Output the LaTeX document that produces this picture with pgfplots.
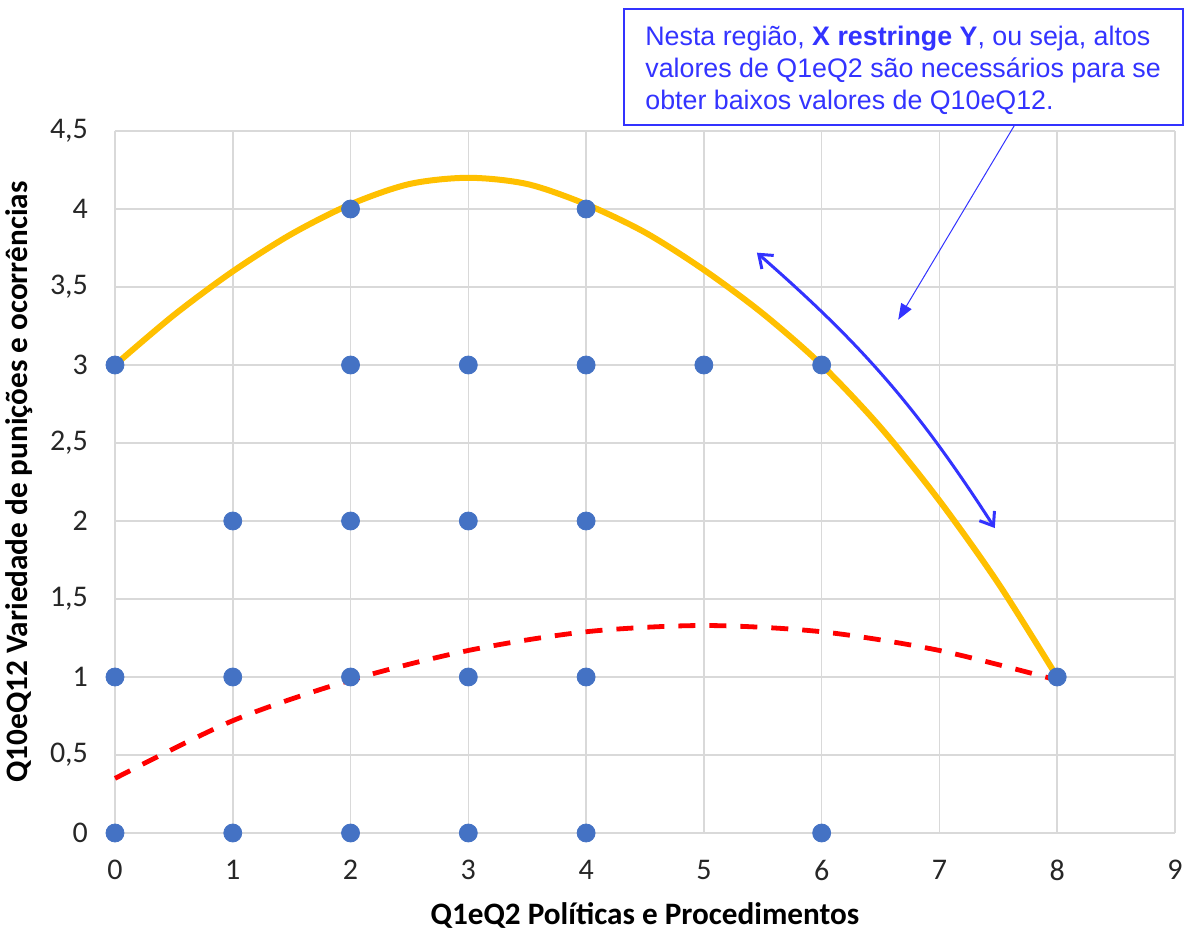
\documentclass[border=0pt]{standalone}
\usepackage{pgfplots}
\pgfplotsset{compat=1.18}
\usepackage{fontspec}
\setmainfont{Carlito}
\newfontfamily\arialfont{Liberation Sans}
\usetikzlibrary{arrows.meta}
\definecolor{ptblue}{HTML}{4472C4}
\definecolor{trendy}{HTML}{FFC000}
\definecolor{gridg}{HTML}{D9D9D9}
\definecolor{notecol}{HTML}{3333FF}
\begin{document}
\begin{tikzpicture}
\begin{axis}[
    name=main,
    at={(0,0)}, anchor=south west,
    scale only axis,
    width=530pt, height=351pt,
    xmin=0, xmax=9, ymin=0, ymax=4.5,
    xtick={0,1,...,9},
    ytick={0,0.5,...,4.5},
    grid=major,
    major grid style={gridg, line width=0.8pt},
    axis line style={draw=none},
    tick style={draw=none},
    /pgf/number format/use comma,
    /pgf/number format/assume math mode=true,
    ticklabel style={font=\fontsize{15}{17}\selectfont, text=black!85},
    xticklabel style={yshift=-10pt},
    yticklabel style={xshift=-10pt},
    xlabel={\textbf{Q1eQ2 Políticas e Procedimentos}},
    ylabel={\textbf{Q10eQ12 Variedade de punições e ocorrências}},
    label style={font=\fontsize{15.6}{18}\selectfont},
    xlabel style={yshift=-4pt},
    ylabel style={yshift=2pt},
    clip=false,
]
\addplot[only marks, mark=*, mark size=4.5pt, mark options={draw=ptblue, fill=ptblue}]
coordinates {
(0,3) (0,1) (0,0)
(1,2) (1,1) (1,0)
(2,4) (2,3) (2,2) (2,1) (2,0)
(3,3) (3,2) (3,1) (3,0)
(4,4) (4,3) (4,2) (4,1) (4,0)
(5,3) (6,3) (6,0) (8,1)
};
\addplot[trendy, line width=3pt, smooth]
coordinates {
(0,3.0) (0.5,3.32) (1,3.6) (1.5,3.84) (2,4.03) (2.5,4.16) (3,4.2)
(3.5,4.16) (4,4.03) (4.5,3.85) (5,3.61) (5.5,3.33) (6,3.0)
(6.5,2.6) (7,2.13) (7.5,1.6) (8,1.0)
};
\addplot[red, line width=2.4pt, dash pattern=on 8.5pt off 7pt, smooth]
coordinates {
(0,0.35) (1,0.72) (2,0.98) (3,1.17) (4,1.29) (5,1.33) (6,1.29) (7,1.17) (8,0.98)
};
% annotation
\draw[notecol, line width=1pt, fill=white] (axis cs:4.32,4.54) rectangle (axis cs:9.07,5.28);
\node[anchor=north west, align=left, text=notecol, inner sep=0pt,
      font=\arialfont\fontsize{13.4}{16}\selectfont]
  at (axis cs:4.5,5.175)
  {Nesta região, \textbf{X restringe Y}, ou seja, altos\\
   valores de Q1eQ2 são necessários para se\\
   obter baixos valores de Q10eQ12.};
\draw[notecol, line width=0.5pt, -{Triangle[length=8pt, width=6pt]}]
  (axis cs:7.64,4.54) -- (axis cs:6.65,3.29);
\draw[notecol, line width=1.5pt, {Straight Barb[length=6pt, width=9pt]}-{Straight Barb[length=6pt, width=9pt]}]
  (axis cs:5.45,3.72) to[bend left=8] (axis cs:7.47,1.955);
\end{axis}
\pgfresetboundingbox
\path (-57.5pt,-49.5pt) rectangle (537.5pt,416.5pt);
\end{tikzpicture}
\end{document}
